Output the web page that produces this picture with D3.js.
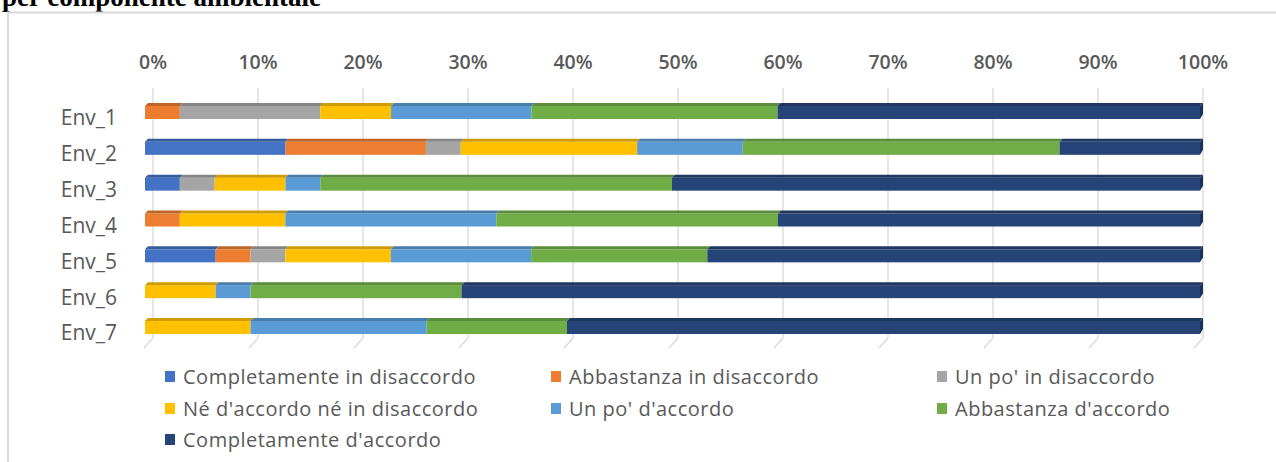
<!DOCTYPE html>
<html>
<head>
<meta charset="utf-8">
<script src="https://cdn.jsdelivr.net/npm/d3@7"></script>
<style>
  html, body { margin: 0; padding: 0; background: #fff; overflow: hidden; }
  svg { display: block; }
</style>
</head>
<body>
<script>
const width = 1276, height = 462;

// categories (top to bottom)
const categories = ["Env_1", "Env_2", "Env_3", "Env_4", "Env_5", "Env_6", "Env_7"];

// response levels, in stacking order
const levels = [
  "Completamente in disaccordo",
  "Abbastanza in disaccordo",
  "Un po' in disaccordo",
  "Né d'accordo né in disaccordo",
  "Un po' d'accordo",
  "Abbastanza d'accordo",
  "Completamente d'accordo"
];
const colors = ["#4472C4", "#ED7D31", "#A5A5A5", "#FFC000", "#5B9BD5", "#70AD47", "#264478"];

// share of answers (%) per level, one array per level, in category order
const completDisacc = [0, 13.3, 3.3, 0, 6.7, 0, 0];
const abbDisacc     = [3.3, 13.3, 0, 3.3, 3.3, 0, 0];
const unPoDisacc    = [13.3, 3.3, 3.3, 0, 3.3, 0, 0];
const neNe          = [6.7, 16.7, 6.7, 10.0, 10.0, 6.7, 10.0];
const unPoAcc       = [13.3, 10.0, 3.3, 20.0, 13.3, 3.3, 16.7];
const abbAcc        = [23.3, 30.0, 33.3, 26.7, 16.7, 20.0, 13.3];
const completAcc    = [40.0, 13.3, 50.0, 40.0, 46.7, 70.0, 60.0];

const tickValues = [0, 0.1, 0.2, 0.3, 0.4, 0.5, 0.6, 0.7, 0.8, 0.9, 1];

const series = [completDisacc, abbDisacc, unPoDisacc, neNe, unPoAcc, abbAcc, completAcc];
const rows = categories.map((c, i) => {
  const r = {cat: c};
  levels.forEach((l, j) => r[l] = series[j][i]);
  return r;
});

const stack = d3.stack().keys(levels).offset(d3.stackOffsetExpand);
const stacked = stack(rows);

const svg = d3.select("body").append("svg")
  .attr("width", width)
  .attr("height", height);

// title (cut at the top of the picture)
svg.append("text")
  .attr("x", 2)
  .attr("y", 6)
  .attr("font-family", "Liberation Serif")
  .attr("font-weight", "bold")
  .attr("font-size", 27)
  .attr("fill", "#000")
  .text("per componente ambientale");

// chart frame
svg.append("rect")
  .attr("x", 8).attr("y", 12.5)
  .attr("width", 1400).attr("height", 600)
  .attr("fill", "#fff")
  .attr("stroke", "#d9d9d9")
  .attr("stroke-width", 2);

const x = d3.scaleLinear().domain([0, 1]).range([145, 1200]);      // front face of bars
const xBack = d3.scaleLinear().domain([0, 1]).range([153, 1203]);  // back wall / gridlines
const y = d3.scalePoint().domain(categories).range([111, 326]);
const barH = 16, depth = 3;

// gridlines
const grid = svg.append("g").attr("stroke", "#d9d9d9").attr("stroke-width", 1.3);
grid.selectAll("line.v")
  .data(tickValues)
  .join("line")
  .attr("class", "v")
  .attr("x1", d => xBack(d)).attr("x2", d => xBack(d))
  .attr("y1", 88).attr("y2", 338);
grid.selectAll("line.f")
  .data(tickValues)
  .join("line")
  .attr("class", "f")
  .attr("x1", d => xBack(d)).attr("x2", d => xBack(d) - 9)
  .attr("y1", 338).attr("y2", 348);

// top axis labels
svg.append("g")
  .selectAll("text")
  .data(tickValues)
  .join("text")
  .attr("x", d => xBack(d))
  .attr("y", 62)
  .attr("dy", "0.35em")
  .attr("text-anchor", "middle")
  .attr("font-family", "Open Sans")
  .attr("font-weight", 600)
  .attr("font-size", 19.5)
  .attr("fill", "#595959")
  .text(d3.format(".0%"));

// category labels
svg.append("g")
  .selectAll("text")
  .data(categories)
  .join("text")
  .attr("x", 117)
  .attr("y", d => y(d) + 7)
  .attr("dy", "0.35em")
  .attr("text-anchor", "end")
  .attr("font-family", "Open Sans")
  .attr("font-size", 21)
  .attr("fill", "#595959")
  .text(d => d);

// bars
const layer = svg.append("g")
  .selectAll("g")
  .data(stacked)
  .join("g")
  .attr("data-level", (d, i) => i);

layer.each(function(s, li) {
  const g = d3.select(this);
  const col = colors[li];
  const dark = d3.color(col).darker(0.6);
  const segs = s.filter(d => d[1] - d[0] > 0);
  // front face
  g.selectAll("rect")
    .data(segs)
    .join("rect")
    .attr("x", d => x(d[0]))
    .attr("y", d => y(d.data.cat) - barH / 2 + depth)
    .attr("width", d => x(d[1]) - x(d[0]))
    .attr("height", barH - depth)
    .attr("fill", col);
  // top face
  g.selectAll("path.top")
    .data(segs)
    .join("path")
    .attr("class", "top")
    .attr("fill", dark)
    .attr("d", d => {
      const t = y(d.data.cat) - barH / 2;
      const x0 = x(d[0]), x1 = x(d[1]);
      return `M${x0},${t + depth}L${x0 + depth},${t}L${x1 + depth},${t}L${x1},${t + depth}Z`;
    });
  // right end cap
  g.selectAll("path.cap")
    .data(segs.filter(d => d[1] >= 0.9999))
    .join("path")
    .attr("class", "cap")
    .attr("fill", d3.color(col).darker(1))
    .attr("d", d => {
      const t = y(d.data.cat) - barH / 2;
      const x1 = x(d[1]);
      return `M${x1},${t + depth}L${x1 + depth},${t}L${x1 + depth},${t + barH - depth - 2}L${x1},${t + barH}Z`;
    });
});

// legend
const legendCols = [165, 551, 937];
const legendRows = [377, 409, 440];
const legend = svg.append("g")
  .selectAll("g")
  .data(levels)
  .join("g")
  .attr("transform", (d, i) => `translate(${legendCols[i % 3]},${legendRows[Math.floor(i / 3)]})`);
legend.append("rect")
  .attr("x", 0).attr("y", -6)
  .attr("width", 10).attr("height", 11)
  .attr("fill", (d, i) => colors[i]);
legend.append("text")
  .attr("x", 18)
  .attr("y", 0)
  .attr("dy", "0.35em")
  .attr("font-family", "Open Sans")
  .attr("font-size", 20)
  .attr("letter-spacing", 0.5)
  .attr("fill", "#595959")
  .text(d => d);
</script>
</body>
</html>
